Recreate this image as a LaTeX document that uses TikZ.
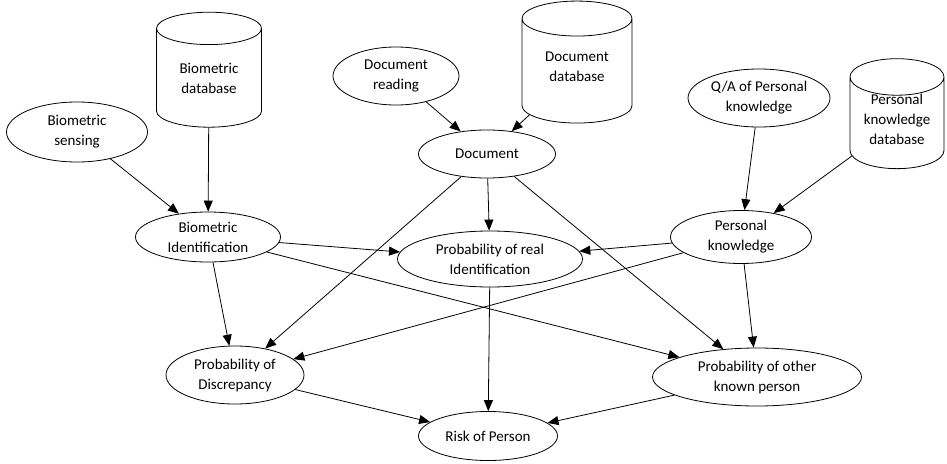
\documentclass[tikz,border=0pt]{standalone}
\usepackage{fontspec}
\setmainfont{Carlito}
\usetikzlibrary{shapes.geometric,arrows.meta}

% text of a database cylinder, lowered below the lid
\newcommand{\dbtext}[2]{\raisebox{-#1}[0pt][0pt]{\begin{tabular}{@{}c@{}}#2\end{tabular}}}

\begin{document}
\begin{tikzpicture}[x=1pt, y=-1pt, font=\fontsize{15}{20}\selectfont,
  every node/.style={align=center, inner sep=0pt},
  ell/.style={draw, ellipse, line width=0.8pt},
  dbase/.style={draw, cylinder, shape border rotate=90, aspect=0.55, line width=0.8pt},
  arr/.style={-{Triangle[length=11pt, width=9pt]}, line width=0.8pt}]
\useasboundingbox (0,0) rectangle (947,463);
% sources
\node[dbase, minimum width=105pt, minimum height=115pt] (biodb) at (209,78) {\dbtext{5pt}{Biometric\\database}};
\node[dbase, minimum width=110pt, minimum height=122pt] (docdb) at (577,71) {\dbtext{0pt}{Document\\database}};
\node[dbase, minimum width=94pt, minimum height=110pt] (perdb) at (897,123) {\dbtext{1pt}{Personal\\knowledge\\database}};
\node[ell, minimum width=141pt, minimum height=60pt] (biosens) at (77,132) {Biometric\\sensing};
\node[ell, minimum width=126pt, minimum height=58pt] (docread) at (396,76) {Document\\reading};
\node[ell, minimum width=142pt, minimum height=58pt] (qa) at (759,98) {Q/A of Personal\\knowledge};
% middle
\node[ell, minimum width=137pt, minimum height=48pt] (doc) at (487,154) {Document};
\node[ell, minimum width=145pt, minimum height=50pt] (bioid) at (208,237) {Biometric\\Identification};
\node[ell, minimum width=185pt, minimum height=56pt] (preal) at (490,259) {Probability of real\\Identification};
\node[ell, minimum width=141pt, minimum height=53pt] (perk) at (741,237) {Personal\\knowledge};
% outcomes
\node[ell, minimum width=138pt, minimum height=58pt] (pdisc) at (235,375) {Probability of\\Discrepancy};
\node[ell, minimum width=209pt, minimum height=58pt] (pother) at (757,377) {Probability of other\\known person};
\node[ell, minimum width=139pt, minimum height=49pt] (risk) at (488,436) {Risk of Person};

\draw[arr] (biosens) -- (bioid);
\draw[arr] (biodb) -- (bioid);
\draw[arr] (docread) -- (doc);
\draw[arr] (docdb) -- (doc);
\draw[arr] (qa) -- (perk);
\draw[arr] (perdb) -- (perk);
\draw[arr] (bioid) -- (preal);
\draw[arr] (bioid) -- (pdisc);
\draw[arr] (bioid) -- (pother);
\draw[arr] (doc) -- (preal);
\draw[arr] (doc) -- (pdisc);
\draw[arr] (doc) -- (pother);
\draw[arr] (perk) -- (preal);
\draw[arr] (perk) -- (pdisc);
\draw[arr] (perk) -- (pother);
\draw[arr] (preal) -- (risk);
\draw[arr] (pdisc) -- (risk);
\draw[arr] (pother) -- (risk);
\end{tikzpicture}
\end{document}
